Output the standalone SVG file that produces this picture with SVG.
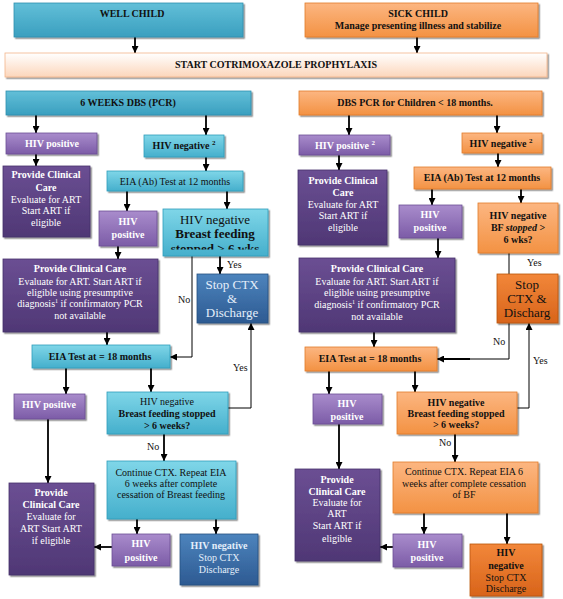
<svg xmlns="http://www.w3.org/2000/svg" width="563" height="599" viewBox="0 0 563 599">
<defs>
<linearGradient id="gTealD" x1="0" y1="0" x2="0" y2="1"><stop offset="0" stop-color="#62bfd8"/><stop offset="1" stop-color="#3a9fbf"/></linearGradient>
<linearGradient id="gTeal" x1="0" y1="0" x2="0" y2="1"><stop offset="0" stop-color="#7fd6e8"/><stop offset="1" stop-color="#45afcc"/></linearGradient>
<linearGradient id="gPurL" x1="0" y1="0" x2="0" y2="1"><stop offset="0" stop-color="#a98ccc"/><stop offset="1" stop-color="#7c5ca7"/></linearGradient>
<linearGradient id="gPurD" x1="0" y1="0" x2="0" y2="1"><stop offset="0" stop-color="#6b4f93"/><stop offset="1" stop-color="#4f3775"/></linearGradient>
<linearGradient id="gBlue" x1="0" y1="0" x2="0" y2="1"><stop offset="0" stop-color="#4d84bd"/><stop offset="1" stop-color="#2d5a92"/></linearGradient>
<linearGradient id="gOr" x1="0" y1="0" x2="0" y2="1"><stop offset="0" stop-color="#fcb681"/><stop offset="1" stop-color="#f39243"/></linearGradient>
<linearGradient id="gOrD" x1="0" y1="0" x2="0" y2="1"><stop offset="0" stop-color="#f2873a"/><stop offset="1" stop-color="#d8641a"/></linearGradient>
<linearGradient id="gStart" x1="0" y1="0" x2="0" y2="1"><stop offset="0" stop-color="#ffffff"/><stop offset="1" stop-color="#fcd6bb"/></linearGradient>
<filter id="sh" x="-10%" y="-10%" width="130%" height="130%"><feDropShadow dx="1.5" dy="1.5" stdDeviation="0.7" flood-color="#000" flood-opacity="0.45"/></filter>
<marker id="ah" markerWidth="7" markerHeight="7" refX="7" refY="3.5" orient="auto" markerUnits="userSpaceOnUse"><path d="M0,0 L7,3.5 L0,7 z" fill="#000"/></marker>
<clipPath id="clipBF"><rect x="163" y="209" width="105" height="40.5"/></clipPath>
</defs>
<style>
text{font-family:"Liberation Serif","Times New Roman",serif;text-anchor:middle;font-size:10px}
.b{font-weight:bold}
.w{fill:#ffffff}
.k{fill:#111111}
.lt{fill:#e4eefa}
.big{font-size:13px}
.lbl{font-size:10px;fill:#111;text-anchor:start}
.teD{fill:url(#gTealD);stroke:#2f8fae;stroke-width:0.8;filter:url(#sh)}
.te{fill:url(#gTeal);stroke:#2f9dbb;stroke-width:0.8;filter:url(#sh)}
.pl{fill:url(#gPurL);stroke:#6b4f95;stroke-width:0.8;filter:url(#sh)}
.pd{fill:url(#gPurD);stroke:#45306a;stroke-width:0.8;filter:url(#sh)}
.bl{fill:url(#gBlue);stroke:#24507f;stroke-width:0.8;filter:url(#sh)}
.or{fill:url(#gOr);stroke:#e27c2c;stroke-width:0.8;filter:url(#sh)}
.od{fill:url(#gOrD);stroke:#b9540f;stroke-width:0.8;filter:url(#sh)}
.st{fill:url(#gStart);stroke:#f2b48a;stroke-width:0.8;filter:url(#sh)}
.c{fill:none;stroke:#000;stroke-width:1.8}
.a{marker-end:url(#ah)}
.t{fill:none;stroke:#000;stroke-width:1}
</style>
<rect width="563" height="599" fill="#ffffff"/>

<g id="connectors">
<line class="c a" x1="135" y1="37" x2="135" y2="53"/>
<line class="c a" x1="417" y1="37" x2="417" y2="53"/>
<line class="c a" x1="36" y1="115" x2="36" y2="133"/>
<line class="c a" x1="206" y1="115" x2="206" y2="135"/>
<line class="c a" x1="349" y1="115" x2="349" y2="135"/>
<line class="c a" x1="497" y1="115" x2="497" y2="133"/>
<!-- left -->
<line class="c a" x1="36" y1="154" x2="36" y2="166"/>
<line class="c a" x1="206" y1="157" x2="206" y2="171"/>
<line class="c a" x1="127" y1="191" x2="127" y2="211"/>
<line class="c a" x1="227" y1="191" x2="227" y2="209"/>
<line class="c a" x1="118" y1="246" x2="118" y2="259"/>
<line class="c a" x1="220" y1="256" x2="220" y2="274"/>
<polyline class="t a" points="192,256 192,357 170,357"/>
<line class="c a" x1="107" y1="332" x2="107" y2="345"/>
<polyline class="t a" points="228,408 251,408 251,323"/>
<line class="c a" x1="66" y1="368" x2="66" y2="394"/>
<line class="c a" x1="151" y1="368" x2="151" y2="392"/>
<line class="c a" x1="48" y1="419" x2="48" y2="483"/>
<line class="c a" x1="164" y1="434" x2="164" y2="461"/>
<line class="c a" x1="137" y1="519" x2="137" y2="534"/>
<line class="c a" x1="216" y1="519" x2="216" y2="534"/>
<line class="c a" x1="112" y1="547" x2="94" y2="547"/>
<!-- right -->
<line class="c a" x1="339" y1="155" x2="339" y2="170"/>
<line class="c a" x1="498" y1="153" x2="498" y2="167"/>
<line class="c a" x1="432" y1="189" x2="432" y2="205"/>
<line class="c a" x1="521" y1="189" x2="521" y2="203"/>
<line class="c a" x1="438" y1="238" x2="438" y2="258"/>
<polyline class="t" points="509,253 509,359 470,359"/>
<line class="c a" x1="470" y1="359" x2="437" y2="359"/>
<line class="c a" x1="374" y1="332" x2="374" y2="347"/>
<polyline class="t a" points="517,408 529,408 529,323"/>
<line class="c a" x1="329" y1="371" x2="329" y2="394"/>
<line class="c a" x1="415" y1="371" x2="415" y2="392"/>
<line class="c a" x1="339" y1="424" x2="339" y2="469"/>
<line class="c a" x1="455" y1="434" x2="455" y2="462"/>
<line class="c a" x1="424" y1="513" x2="424" y2="534"/>
<line class="c a" x1="507" y1="513" x2="507" y2="544"/>
<line class="c a" x1="393" y1="547" x2="380" y2="547"/>
<!-- labels -->
<text class="lbl" x="227" y="268">Yes</text>
<text class="lbl" x="178" y="303">No</text>
<text class="lbl" x="233" y="371">Yes</text>
<text class="lbl" x="147" y="450">No</text>
<text class="lbl" x="527" y="266">Yes</text>
<text class="lbl" x="493" y="345">No</text>
<text class="lbl" x="533" y="364">Yes</text>
<text class="lbl" x="439" y="446">No</text>
</g>

<g id="well-child"><rect class="teD" x="14" y="3" width="229" height="34"/><text class="b k" x="132" y="17">WELL CHILD</text></g>
<g id="sick-child"><rect class="or" x="305" y="3" width="233" height="34"/><text class="b k" x="418" y="17">SICK CHILD</text><text class="b k" x="418" y="29">Manage presenting illness and stabilize</text></g>
<g id="start-ctx"><rect class="st" x="5" y="53" width="542" height="24"/><text class="b k" x="276" y="68">START COTRIMOXAZOLE PROPHYLAXIS</text></g>
<g id="six-weeks"><rect class="teD" x="6" y="91" width="245" height="24"/><text class="b k" x="128" y="106">6 WEEKS DBS (PCR)</text></g>
<g id="dbs-pcr"><rect class="or" x="299" y="91" width="243" height="24"/><text class="b k" x="415" y="106">DBS PCR for Children &lt; 18 months.</text></g>

<!-- LEFT -->
<g id="l-pos1"><rect class="pl" x="6" y="133" width="91" height="21"/><text class="b w" x="52" y="147">HIV positive</text></g>
<g id="l-neg1"><rect class="te" x="144" y="135" width="80" height="22"/><text class="b k" x="184" y="149">HIV negative <tspan font-size="7" dy="-4">2</tspan></text></g>
<g id="l-care1"><rect class="pd" x="3" y="166" width="87" height="71"/>
<text class="w" x="46"><tspan class="b" x="46" y="178">Provide Clinical</tspan><tspan class="b" x="46" y="191">Care</tspan><tspan x="46" y="203">Evaluate for ART</tspan><tspan x="46" y="214">Start ART if</tspan><tspan x="46" y="226">eligible</tspan></text></g>
<g id="l-eia12"><rect class="te" x="107" y="171" width="136" height="20"/><text class="k" x="175" y="185">EIA (Ab) Test at 12 months</text></g>
<g id="l-pos2"><rect class="pl" x="99" y="211" width="58" height="35"/><text class="b w" x="128" y="225">HIV</text><text class="b w" x="128" y="238">positive</text></g>
<g id="l-bf1"><rect class="te" x="163" y="209" width="105" height="47"/>
<g clip-path="url(#clipBF)"><text class="k big" x="215" y="224">HIV negative</text><text class="k big b" x="215" y="238">Breast feeding</text><text class="k big b" x="215" y="253">stopped &gt; 6 wks</text></g></g>
<g id="l-stop1"><rect class="bl" x="197" y="274" width="71" height="49"/><text class="lt big" x="232" y="289">Stop CTX</text><text class="lt big" x="232" y="303">&amp;</text><text class="lt big" x="232" y="317">Discharge</text></g>
<g id="l-care2"><rect class="pd" x="3" y="259" width="155" height="73"/>
<text class="w" x="80"><tspan class="b" x="80" y="272">Provide Clinical Care</tspan><tspan x="80" y="285">Evaluate for ART. Start ART if</tspan><tspan x="80" y="296">eligible using presumptive</tspan><tspan x="80" y="307">diagnosis<tspan font-size="6" dy="-4">1</tspan><tspan dy="4"> if confirmatory PCR</tspan></tspan><tspan x="80" y="319">not available</tspan></text></g>
<g id="l-eia18"><rect class="te" x="32" y="345" width="138" height="23"/><text class="b k" x="100" y="360">EIA Test at = 18 months</text></g>
<g id="l-pos3"><rect class="pl" x="14" y="394" width="71" height="25"/><text class="b w" x="49" y="408">HIV positive</text></g>
<g id="l-bf2"><rect class="te" x="107" y="392" width="121" height="42"/><text class="k" x="167" y="405">HIV negative</text><text class="b k" x="167" y="417">Breast feeding stopped</text><text class="b k" x="167" y="429">&gt; 6 weeks?</text></g>
<g id="l-cont"><rect class="te" x="107" y="461" width="129" height="58"/><text class="k" x="171" y="476">Continue CTX. Repeat EIA</text><text class="k" x="171" y="487">6 weeks after complete</text><text class="k" x="171" y="498">cessation of Breast feeding</text></g>
<g id="l-care3"><rect class="pd" x="9" y="483" width="85" height="92"/>
<text class="w" x="51" font-size="11"><tspan class="b" x="51" y="496">Provide</tspan><tspan class="b" x="51" y="508">Clinical Care</tspan><tspan x="51" y="520">Evaluate for</tspan><tspan x="51" y="532">ART Start ART</tspan><tspan x="51" y="544">if eligible</tspan></text></g>
<g id="l-pos4"><rect class="pl" x="112" y="534" width="58" height="32"/><text class="b w" x="141" y="547">HIV</text><text class="b w" x="141" y="561">positive</text></g>
<g id="l-neg-end"><rect class="bl" x="180" y="534" width="78" height="51"/><text class="b lt" x="219" y="549">HIV negative</text><text class="lt" x="219" y="561">Stop CTX</text><text class="lt" x="219" y="573">Discharge</text></g>

<!-- RIGHT -->
<g id="r-pos1"><rect class="pl" x="299" y="135" width="91" height="20"/><text class="b w" x="345" y="149">HIV positive <tspan font-size="7" dy="-4">2</tspan></text></g>
<g id="r-neg1"><rect class="or" x="462" y="133" width="80" height="20"/><text class="b k" x="501" y="147">HIV negative <tspan font-size="7" dy="-4">2</tspan></text></g>
<g id="r-care1"><rect class="pd" x="298" y="170" width="89" height="75"/>
<text class="w" x="343"><tspan class="b" x="343" y="184">Provide Clinical</tspan><tspan class="b" x="343" y="196">Care</tspan><tspan x="343" y="208">Evaluate for ART</tspan><tspan x="343" y="219">Start ART if</tspan><tspan x="343" y="231">eligible</tspan></text></g>
<g id="r-eia12"><rect class="or" x="414" y="167" width="137" height="22"/><text class="b k" x="482" y="181">EIA (Ab) Test at 12 months</text></g>
<g id="r-pos2"><rect class="pl" x="399" y="205" width="63" height="33"/><text class="b w" x="430" y="218">HIV</text><text class="b w" x="430" y="231">positive</text></g>
<g id="r-bf1"><rect class="or" x="478" y="203" width="80" height="50"/><text class="b k" x="518" y="219">HIV negative</text><text class="b k" x="518" y="231">BF <tspan font-style="italic">stopped</tspan> &gt;</text><text class="b k" x="518" y="243">6 wks?</text></g>
<g id="r-stop1"><rect class="od" x="497" y="274" width="61" height="49"/><text class="k big" x="527" y="289">Stop</text><text class="k big" x="527" y="303">CTX &amp;</text><text class="k big" x="527" y="317">Discharg</text></g>
<g id="r-care2"><rect class="pd" x="299" y="258" width="156" height="74"/>
<text class="w" x="377"><tspan class="b" x="377" y="272">Provide Clinical Care</tspan><tspan x="377" y="285">Evaluate for ART. Start ART if</tspan><tspan x="377" y="296">eligible using presumptive</tspan><tspan x="377" y="308">diagnosis<tspan font-size="6" dy="-4">1</tspan><tspan dy="4"> if confirmatory PCR</tspan></tspan><tspan x="377" y="320">not available</tspan></text></g>
<g id="r-eia18"><rect class="or" x="305" y="347" width="132" height="24"/><text class="b k" x="370" y="362">EIA Test at = 18 months</text></g>
<g id="r-pos3"><rect class="pl" x="313" y="394" width="69" height="30"/><text class="b w" x="347" y="407">HIV</text><text class="b w" x="347" y="420">positive</text></g>
<g id="r-bf2"><rect class="or" x="397" y="392" width="120" height="42"/><text class="b k" x="456" y="406">HIV negative</text><text class="b k" x="456" y="417">Breast feeding stopped</text><text class="b k" x="456" y="428">&gt; 6 weeks?</text></g>
<g id="r-cont"><rect class="or" x="393" y="462" width="145" height="51"/><text class="k" x="464" y="475">Continue CTX. Repeat EIA 6</text><text class="k" x="464" y="487">weeks after complete cessation</text><text class="k" x="464" y="498">of BF</text></g>
<g id="r-care3"><rect class="pd" x="295" y="469" width="85" height="92"/>
<text class="w" x="337" font-size="11"><tspan class="b" x="337" y="483">Provide</tspan><tspan class="b" x="337" y="495">Clinical Care</tspan><tspan x="337" y="506">Evaluate for</tspan><tspan x="337" y="517">ART</tspan><tspan x="337" y="529">Start ART if</tspan><tspan x="337" y="542">eligible</tspan></text></g>
<g id="r-pos4"><rect class="pl" x="393" y="534" width="69" height="33"/><text class="b w" x="427" y="548">HIV</text><text class="b w" x="427" y="561">positive</text></g>
<g id="r-neg-end"><rect class="od" x="470" y="544" width="72" height="52"/><text class="b k" x="506" y="556">HIV</text><text class="b k" x="506" y="569">negative</text><text class="k" x="506" y="581">Stop CTX</text><text class="k" x="506" y="592">Discharge</text></g>
</svg>
